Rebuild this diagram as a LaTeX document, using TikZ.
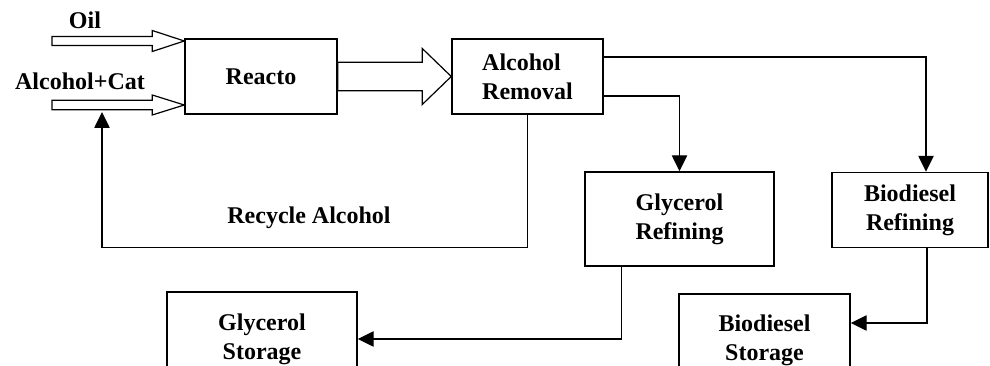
\documentclass[tikz,border=0pt]{standalone}
\usepackage{fontspec}
\setmainfont{Liberation Serif}
\usetikzlibrary{calc,arrows.meta}

% seta larga vazada: origem, ponta, meia-haste, meia-cabeca, comprimento da cabeca
\newcommand{\fatarrow}[5]{%
  \draw[line width=0.9pt,line join=miter]
    ($(#1)+(0,-#3)$) -- ($(#2)+(-#5,-#3)$) -- ($(#2)+(-#5,-#4)$) -- (#2)
    -- ($(#2)+(-#5,#4)$) -- ($(#2)+(-#5,#3)$) -- ($(#1)+(0,#3)$) -- cycle;}

\begin{document}
\begin{tikzpicture}[x=0.75pt,y=-0.75pt,
  font=\fontsize{18}{21.5}\selectfont\bfseries,
  box/.style={draw,line width=1.1pt,align=center,inner sep=0pt},
  boxsize/.style 2 args={minimum width=#1*0.75pt,minimum height=#2*0.75pt},
  flow/.style={line width=1.1pt,-{Triangle[length=12pt,width=11.5pt]}}]

\clip (0,0) rectangle (990,366);

%---------------------------
% blocos do processo
%---------------------------
\node[box,boxsize={152}{75}] (reactor) at (261,76.5) {Reacto};
\node[box,boxsize={151}{75},align=left] (removal) at (527.5,76.5) {Alcohol\\Removal};
\node[box,boxsize={189}{94}] (glyref) at (679.5,219) {Glycerol\\Refining};
\node[box,boxsize={156}{75}] (bioref) at (910,210) {Biodiesel\\Refining};
\node[box,boxsize={171}{92}] (biosto) at (764.5,340) {Biodiesel\\Storage};
\node[box,boxsize={190}{94}] (glysto) at (262,339) {Glycerol\\Storage};

%---------------------------
% entradas
%---------------------------
\coordinate (oilin) at (52,41);
\coordinate (oiltip) at (reactor.west |- oilin);
\coordinate (alcin) at (52,105);
\coordinate (alctip) at (reactor.west |- alcin);
\node (oil) at (85,20) {Oil};
\node (alcat) at (80,81) {Alcohol+Cat};
\fatarrow{oilin}{oiltip}{4.5}{10.5}{32}
\fatarrow{alcin}{alctip}{4.7}{10}{32}

% reator -> remocao de alcool
\fatarrow{reactor.east}{removal.west}{14.3}{28}{29}

%---------------------------
% reciclo de alcool
%---------------------------
\coordinate (rec) at (102,112);
\draw[flow] (removal.south) -- ++(0,133) -| (rec);
\node (reclabel) at (309,218) {Recycle Alcohol};

%---------------------------
% correntes de saida
%---------------------------
\draw[flow] ($(removal.east)+(0,-19.5)$) -| ($(bioref.north)+(16,0)$);
\draw[flow] ($(removal.east)+(0,19.5)$) -| (glyref.north);
\draw[flow] ($(glyref.south west)+(37,0)$) |- (glysto.east);
\draw[flow] ($(bioref.south)+(17,0)$) |- ($(biosto.east)+(0,-17)$);

\end{tikzpicture}
\end{document}
